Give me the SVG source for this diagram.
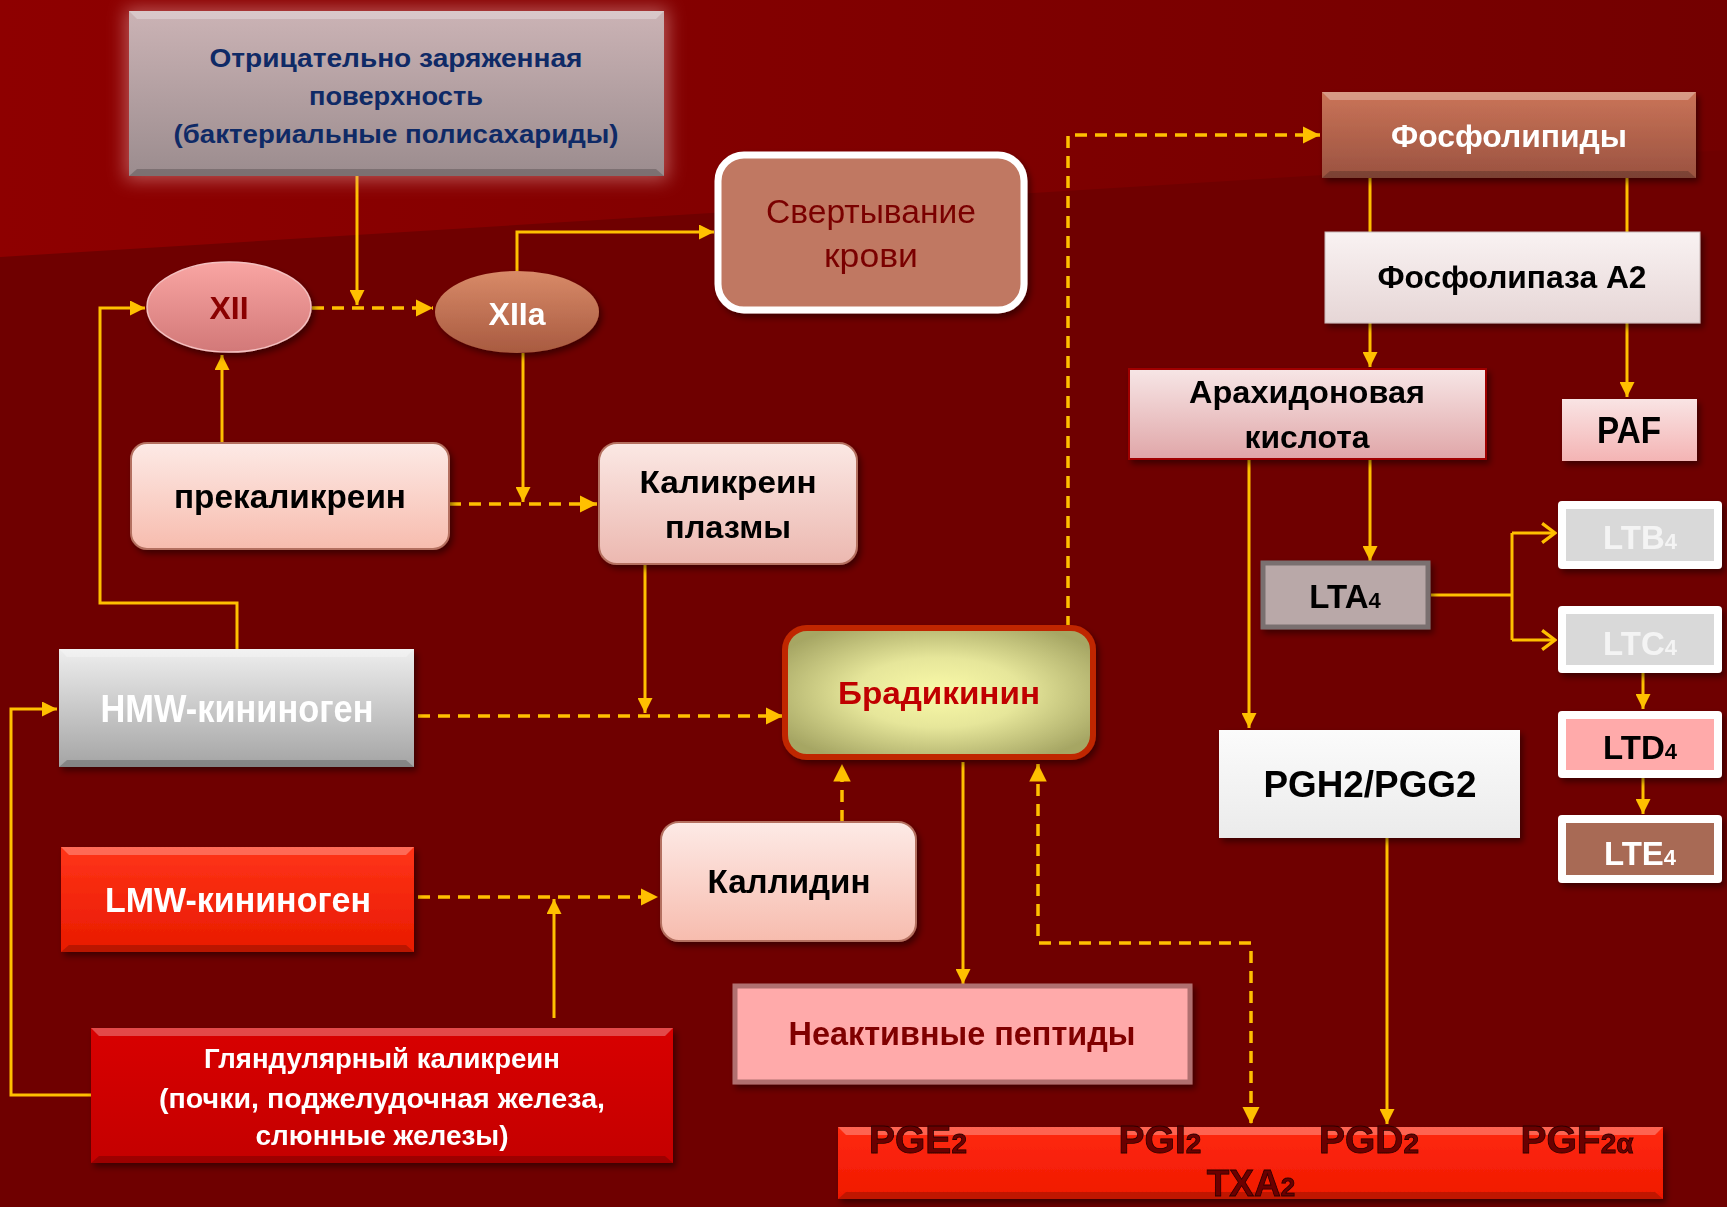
<svg xmlns="http://www.w3.org/2000/svg" width="1727" height="1207" viewBox="0 0 1727 1207">
<defs>
<style>
.t{font-family:"Liberation Sans",Arial,sans-serif;font-weight:bold;text-anchor:middle}
.r{font-weight:normal}
.ln{fill:none;stroke:#ffc000;stroke-width:3}
.ds{fill:none;stroke:#ffc000;stroke-width:3.5;stroke-dasharray:12 8}
.ae{marker-end:url(#ah)}
.as{marker-start:url(#ah)}
.ce{marker-end:url(#ch)}
.hi{fill:#ffffff;opacity:0.28}
.lo{fill:#000000;opacity:0.2}
.bar{fill:#6a0000;stroke:#2a0000;stroke-width:0.8}
</style>
<marker id="ah" viewBox="0 0 10 10" refX="10" refY="5" markerWidth="5" markerHeight="5" orient="auto-start-reverse" markerUnits="strokeWidth"><path d="M0,0 L10,5 L0,10 z" fill="#ffc000"/></marker>
<marker id="ch" viewBox="0 0 10 14" refX="9" refY="7" markerWidth="5.5" markerHeight="7.5" orient="auto" markerUnits="strokeWidth"><path d="M1,1 L9,7 L1,13" fill="none" stroke="#ffc000" stroke-width="2"/></marker>
<linearGradient id="bgTop" x1="0" y1="0" x2="1" y2="0"><stop offset="0" stop-color="#8e0000"/><stop offset="1" stop-color="#730000"/></linearGradient>
<linearGradient id="gTop" x1="0" y1="0" x2="0" y2="1"><stop offset="0" stop-color="#cbb3b5"/><stop offset="1" stop-color="#9b8c8e"/></linearGradient>
<linearGradient id="gXII" x1="0" y1="0" x2="0" y2="1"><stop offset="0" stop-color="#f9a5a3"/><stop offset="1" stop-color="#d27878"/></linearGradient>
<linearGradient id="gXIIa" x1="0" y1="0" x2="0" y2="1"><stop offset="0" stop-color="#d88a68"/><stop offset="1" stop-color="#a85a40"/></linearGradient>
<linearGradient id="gFos" x1="0" y1="0" x2="0" y2="1"><stop offset="0" stop-color="#ca7458"/><stop offset="1" stop-color="#9a5240"/></linearGradient>
<linearGradient id="gFla" x1="0" y1="0" x2="0" y2="1"><stop offset="0" stop-color="#f9f2f2"/><stop offset="1" stop-color="#e6d6d6"/></linearGradient>
<linearGradient id="gAra" x1="0" y1="0" x2="0" y2="1"><stop offset="0" stop-color="#f7e6e6"/><stop offset="1" stop-color="#e0a6a8"/></linearGradient>
<linearGradient id="gPaf" x1="0" y1="0" x2="0" y2="1"><stop offset="0" stop-color="#f9e4e4"/><stop offset="1" stop-color="#f4b4b4"/></linearGradient>
<linearGradient id="gPgh" x1="0" y1="0" x2="0" y2="1"><stop offset="0" stop-color="#fbfbfb"/><stop offset="1" stop-color="#ebebeb"/></linearGradient>
<linearGradient id="gPink" x1="0" y1="0" x2="0" y2="1"><stop offset="0" stop-color="#fdeae6"/><stop offset="1" stop-color="#f7bcae"/></linearGradient>
<linearGradient id="gPink2" x1="0" y1="0" x2="0" y2="1"><stop offset="0" stop-color="#fbe8e4"/><stop offset="1" stop-color="#ecb8b0"/></linearGradient>
<linearGradient id="gHmw" x1="0" y1="0" x2="0" y2="1"><stop offset="0" stop-color="#eeeeee"/><stop offset="1" stop-color="#a4a4a4"/></linearGradient>
<linearGradient id="gLmw" x1="0" y1="0" x2="0" y2="1"><stop offset="0" stop-color="#ff3418"/><stop offset="1" stop-color="#e81a00"/></linearGradient>
<linearGradient id="gGla" x1="0" y1="0" x2="0" y2="1"><stop offset="0" stop-color="#d80404"/><stop offset="1" stop-color="#c40000"/></linearGradient>
<linearGradient id="gBar" x1="0" y1="0" x2="0" y2="1"><stop offset="0" stop-color="#ff2a10"/><stop offset="1" stop-color="#f01800"/></linearGradient>
<radialGradient id="gBrad" cx="0.5" cy="0.5" r="0.6"><stop offset="0" stop-color="#fafaa8"/><stop offset="0.45" stop-color="#e6e69a"/><stop offset="1" stop-color="#a6a664"/></radialGradient>
<filter id="sh" x="-10%" y="-10%" width="125%" height="135%"><feDropShadow dx="3" dy="4" stdDeviation="3" flood-color="#000" flood-opacity="0.45"/></filter>
<filter id="glow" x="-20%" y="-30%" width="140%" height="160%"><feGaussianBlur stdDeviation="9"/></filter>
</defs>

<rect width="1727" height="1207" fill="#6f0000"/>
<polygon points="0,0 1727,0 1727,150 0,257" fill="url(#bgTop)"/>

<g id="connectors">
<path class="ln ae" d="M357,176 V305"/>
<path class="ln ae" d="M517,271 V232 H714"/>
<path class="ln ae" d="M523,353 V502"/>
<path class="ln ae" d="M222,443 V355"/>
<path class="ln ae" d="M237,649 V603 H100 V308 H145"/>
<path class="ln ae" d="M91,1095 H11 V709 H57"/>
<path class="ln ae" d="M645,564 V713"/>
<path class="ln ae" d="M554,1018 V899"/>
<path class="ln ae" d="M963,762 V984"/>
<path class="ln ae" d="M1387,838 V1124"/>
<path class="ln" d="M1370,172 V232 M1627,172 V232"/>
<path class="ln ae" d="M1370,323 V367"/>
<path class="ln ae" d="M1627,323 V397"/>
<path class="ln ae" d="M1370,459 V561"/>
<path class="ln ae" d="M1249,459 V728"/>
<path class="ln" d="M1431,595 H1512 M1512,533 V640"/>
<path class="ln ce" d="M1512,533 H1555"/>
<path class="ln ce" d="M1512,640 H1555"/>
<path class="ln ae" d="M1643,673 V709"/>
<path class="ln ae" d="M1643,778 V814"/>
<path class="ds ae" d="M312,308 H433"/>
<path class="ds ae" d="M449,504 H597"/>
<path class="ds ae" d="M418,716 H783"/>
<path class="ds ae" d="M418,897 H658"/>
<path class="ds ae" d="M842,822 V764"/>
<path class="ds ae" d="M1068,628 V135 H1320"/>
<path class="ds ae as" d="M1038,764 V943 H1251 V1124"/>
</g>

<g id="n-surface">
<rect x="125" y="8" width="543" height="172" fill="#e09a9a" opacity="0.55" filter="url(#glow)"/>
<rect x="129" y="11" width="535" height="165" fill="url(#gTop)"/>
<polygon points="129,11 664,11 656,19 137,19" class="hi"/>
<polygon points="129,176 664,176 656,169 137,169" class="lo"/>
<text class="t" x="396" y="67" font-size="26" fill="#0f2a66" textLength="373" lengthAdjust="spacingAndGlyphs">Отрицательно заряженная</text>
<text class="t" x="396" y="105" font-size="26" fill="#0f2a66" textLength="174" lengthAdjust="spacingAndGlyphs">поверхность</text>
<text class="t" x="396" y="143" font-size="26" fill="#0f2a66" textLength="445" lengthAdjust="spacingAndGlyphs">(бактериальные полисахариды)</text>
</g>

<g id="n-xii" filter="url(#sh)">
<ellipse cx="229" cy="307" rx="82" ry="45" fill="url(#gXII)" stroke="#f4c0c0" stroke-width="1.5"/>
<text class="t" x="229" y="319" font-size="32" fill="#8a0000">XII</text>
</g>

<g id="n-xiia" filter="url(#sh)">
<ellipse cx="517" cy="312" rx="82" ry="41" fill="url(#gXIIa)"/>
<text class="t" x="517" y="325" font-size="32" fill="#ffffff">XIIa</text>
</g>

<g id="n-clot" filter="url(#sh)">
<rect x="718" y="155" width="306" height="155" rx="26" fill="#c07862" stroke="#ffffff" stroke-width="7"/>
<text class="t r" x="871" y="223" font-size="34" fill="#7a0000" textLength="210" lengthAdjust="spacingAndGlyphs">Свертывание</text>
<text class="t r" x="871" y="267" font-size="34" fill="#7a0000" textLength="94" lengthAdjust="spacingAndGlyphs">крови</text>
</g>

<g id="n-phospholipids" filter="url(#sh)">
<rect x="1322" y="92" width="374" height="86" fill="url(#gFos)"/>
<polygon points="1322,92 1696,92 1688,100 1330,100" class="hi"/>
<polygon points="1322,178 1696,178 1688,171 1330,171" class="lo"/>
<text class="t" x="1509" y="147" font-size="31" fill="#ffffff" textLength="236" lengthAdjust="spacingAndGlyphs">Фосфолипиды</text>
</g>

<g id="n-pla2" filter="url(#sh)">
<rect x="1325" y="232" width="375" height="91" fill="url(#gFla)" stroke="#c8b8b8" stroke-width="1"/>
<text class="t" x="1512" y="288" font-size="32" fill="#000000" textLength="269" lengthAdjust="spacingAndGlyphs">Фосфолипаза А2</text>
</g>

<g id="n-arachidonic" filter="url(#sh)">
<rect x="1129" y="369" width="357" height="90" fill="url(#gAra)" stroke="#a00000" stroke-width="2"/>
<text class="t" x="1307" y="403" font-size="31" fill="#000000" textLength="236" lengthAdjust="spacingAndGlyphs">Арахидоновая</text>
<text class="t" x="1307" y="448" font-size="31" fill="#000000" textLength="125" lengthAdjust="spacingAndGlyphs">кислота</text>
</g>

<g id="n-paf" filter="url(#sh)">
<rect x="1562" y="399" width="135" height="62" fill="url(#gPaf)"/>
<text class="t" x="1629" y="443" font-size="36" fill="#000000" textLength="64" lengthAdjust="spacingAndGlyphs">PAF</text>
</g>

<g id="n-lta4" filter="url(#sh)">
<rect x="1263" y="563" width="165" height="64" fill="#b9a8a8" stroke="#7a7070" stroke-width="5"/>
<text class="t" x="1345" y="608" font-size="33" fill="#000000">LTA<tspan font-size="22">4</tspan></text>
</g>

<g id="n-ltb4" filter="url(#sh)">
<rect x="1558" y="501" width="164" height="68" rx="4" fill="#ffffff"/>
<rect x="1566" y="509" width="148" height="52" fill="#d9d9d9"/>
<text class="t" x="1640" y="549" font-size="33" fill="#f4f4f4">LTB<tspan font-size="22">4</tspan></text>
</g>

<g id="n-ltc4" filter="url(#sh)">
<rect x="1558" y="606" width="164" height="67" rx="4" fill="#ffffff"/>
<rect x="1566" y="614" width="148" height="51" fill="#d9d9d9"/>
<text class="t" x="1640" y="655" font-size="33" fill="#f4f4f4">LTC<tspan font-size="22">4</tspan></text>
</g>

<g id="n-ltd4" filter="url(#sh)">
<rect x="1558" y="711" width="164" height="67" rx="4" fill="#ffffff"/>
<rect x="1566" y="719" width="148" height="51" fill="#ffaaaa"/>
<text class="t" x="1640" y="759" font-size="33" fill="#000000">LTD<tspan font-size="22">4</tspan></text>
</g>

<g id="n-lte4" filter="url(#sh)">
<rect x="1558" y="815" width="164" height="68" rx="4" fill="#ffffff"/>
<rect x="1566" y="823" width="148" height="52" fill="#a86a55"/>
<text class="t" x="1640" y="865" font-size="33" fill="#ffffff">LTE<tspan font-size="22">4</tspan></text>
</g>

<g id="n-pgh2" filter="url(#sh)">
<rect x="1219" y="730" width="301" height="108" fill="url(#gPgh)"/>
<text class="t" x="1370" y="797" font-size="37" fill="#000000" textLength="213" lengthAdjust="spacingAndGlyphs">PGH2/PGG2</text>
</g>

<g id="n-bradykinin" filter="url(#sh)">
<rect x="785" y="628" width="308" height="129" rx="22" fill="url(#gBrad)" stroke="#c02800" stroke-width="6"/>
<text class="t" x="939" y="704" font-size="31" fill="#c00000" textLength="202" lengthAdjust="spacingAndGlyphs">Брадикинин</text>
</g>

<g id="n-prekallikrein" filter="url(#sh)">
<rect x="131" y="443" width="318" height="106" rx="16" fill="url(#gPink)" stroke="#b47060" stroke-width="2"/>
<text class="t" x="290" y="508" font-size="34" fill="#000000" textLength="232" lengthAdjust="spacingAndGlyphs">прекаликреин</text>
</g>

<g id="n-kallikrein" filter="url(#sh)">
<rect x="599" y="443" width="258" height="121" rx="18" fill="url(#gPink2)" stroke="#b47060" stroke-width="2"/>
<text class="t" x="728" y="493" font-size="31" fill="#000000" textLength="177" lengthAdjust="spacingAndGlyphs">Каликреин</text>
<text class="t" x="728" y="538" font-size="31" fill="#000000" textLength="126" lengthAdjust="spacingAndGlyphs">плазмы</text>
</g>

<g id="n-hmw" filter="url(#sh)">
<rect x="59" y="649" width="355" height="118" fill="url(#gHmw)"/>
<polygon points="59,649 414,649 406,657 67,657" class="hi"/>
<polygon points="59,767 414,767 406,760 67,760" class="lo"/>
<text class="t" x="237" y="722" font-size="38" fill="#ffffff" textLength="273" lengthAdjust="spacingAndGlyphs">HMW-кининоген</text>
</g>

<g id="n-lmw" filter="url(#sh)">
<rect x="61" y="847" width="353" height="105" fill="url(#gLmw)"/>
<polygon points="61,847 414,847 406,855 69,855" class="hi"/>
<polygon points="61,952 414,952 406,945 69,945" class="lo"/>
<text class="t" x="238" y="912" font-size="35" fill="#ffffff" textLength="266" lengthAdjust="spacingAndGlyphs">LMW-кининоген</text>
</g>

<g id="n-kallidin" filter="url(#sh)">
<rect x="661" y="822" width="255" height="119" rx="18" fill="url(#gPink)" stroke="#b47060" stroke-width="2"/>
<text class="t" x="789" y="893" font-size="33" fill="#000000" textLength="163" lengthAdjust="spacingAndGlyphs">Каллидин</text>
</g>

<g id="n-glandular" filter="url(#sh)">
<rect x="91" y="1028" width="582" height="135" fill="url(#gGla)"/>
<polygon points="91,1028 673,1028 665,1036 99,1036" class="hi"/>
<polygon points="91,1163 673,1163 665,1156 99,1156" class="lo"/>
<text class="t" x="382" y="1068" font-size="28" fill="#ffffff" textLength="356" lengthAdjust="spacingAndGlyphs">Гляндулярный каликреин</text>
<text class="t" x="382" y="1108" font-size="28" fill="#ffffff" textLength="446" lengthAdjust="spacingAndGlyphs">(почки, поджелудочная железа,</text>
<text class="t" x="382" y="1145" font-size="28" fill="#ffffff" textLength="253" lengthAdjust="spacingAndGlyphs">слюнные железы)</text>
</g>

<g id="n-inactive" filter="url(#sh)">
<rect x="735" y="986" width="455" height="96" fill="#ffaaaa" stroke="#b07070" stroke-width="5"/>
<text class="t" x="962" y="1045" font-size="33" fill="#800000" textLength="347" lengthAdjust="spacingAndGlyphs">Неактивные пептиды</text>
</g>

<g id="n-prostaglandins" filter="url(#sh)">
<rect x="838" y="1127" width="825" height="72" fill="url(#gBar)"/>
<polygon points="838,1127 1663,1127 1655,1135 846,1135" class="hi"/>
<polygon points="838,1199 1663,1199 1655,1192 846,1192" class="lo"/>
<text class="t bar" x="918" y="1153" font-size="39">PGE<tspan font-size="28">2</tspan></text>
<text class="t bar" x="1160" y="1153" font-size="39">PGI<tspan font-size="28">2</tspan></text>
<text class="t bar" x="1369" y="1153" font-size="39">PGD<tspan font-size="28">2</tspan></text>
<text class="t bar" x="1577" y="1153" font-size="39">PGF<tspan font-size="28">2α</tspan></text>
<text class="t bar" x="1251" y="1196" font-size="37">TXA<tspan font-size="26">2</tspan></text>
</g>
</svg>
